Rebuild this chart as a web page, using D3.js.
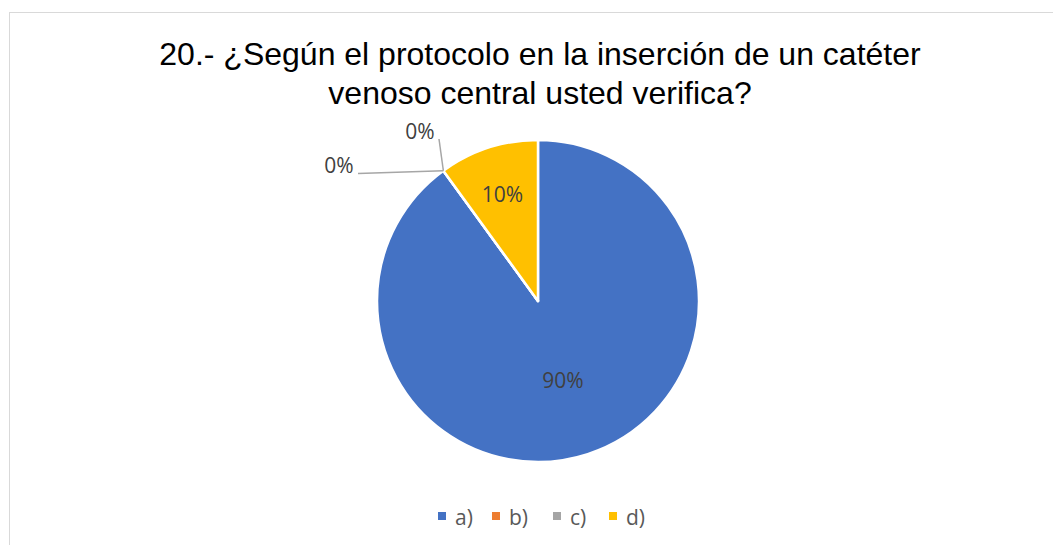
<!DOCTYPE html>
<html><head><meta charset="utf-8">
<script src="https://cdn.jsdelivr.net/npm/d3@7"></script>
<style>body{margin:0;background:#fff;} svg{display:block;}</style>
</head><body>
<script>
const categories = ["a)", "b)", "c)", "d)"];
const values = [90, 0, 0, 10];
const labels = ["90%", "0%", "0%", "10%"];
const colors = ["#4472C4", "#ED7D31", "#A5A5A5", "#FFC000"];
const titleLines = ["20.- ¿Según el protocolo en la inserción de un catéter", "venoso central usted verifica?"];

const W = 1053, H = 545;
const svg = d3.select("body").append("svg").attr("width", W).attr("height", H);
svg.append("rect").attr("x", 9.5).attr("y", 12.5).attr("width", W).attr("height", H)
  .attr("fill", "#fff").attr("stroke", "#d9d9d9").attr("stroke-width", 1);

svg.append("g").selectAll("text").data(titleLines).join("text")
  .attr("x", 540).attr("y", (d, i) => 65 + i * 39)
  .attr("text-anchor", "middle").attr("font-family", "Liberation Sans, Arial, sans-serif")
  .attr("font-size", 32).attr("fill", "#000").text(d => d);

const cx = 538, cy = 301, r = 161;
const pie = d3.pie().sort(null).value(d => d)(values);
const arc = d3.arc().innerRadius(0).outerRadius(r);
const g = svg.append("g").attr("transform", `translate(${cx},${cy})`);
g.selectAll("path").data(pie).join("path")
  .attr("d", arc).attr("fill", (d, i) => colors[i])
  .attr("stroke", "#fff").attr("stroke-width", 2.5).attr("stroke-linejoin", "round");

const lblFont = "'Open Sans', sans-serif";
const inside = { 0: [25, 79], 3: [-35.5, -106.5] };
Object.keys(inside).forEach(k => {
  const i = +k;
  const [x, y] = inside[k];
  g.append("text").attr("x", x).attr("y", y).attr("dy", "0.36em")
    .attr("text-anchor", "middle").attr("font-family", lblFont)
    .attr("font-size", 21).attr("fill", "#404040").text(labels[i]);
});

const edge = d3.arc().innerRadius(r).outerRadius(r);
const p0 = edge.centroid(pie[1]);
const leaders = [
  { i: 1, pts: [p0, [-180, -127.5]], tx: -199, ty: -135.5 },
  { i: 2, pts: [p0, [-99, -162]], tx: -118, ty: -169.5 }
];
leaders.forEach(L => {
  g.append("path").attr("d", d3.line()(L.pts)).attr("fill", "none")
    .attr("stroke", "#A6A6A6").attr("stroke-width", 1.5);
  g.append("text").attr("x", L.tx).attr("y", L.ty).attr("dy", "0.36em")
    .attr("text-anchor", "middle").attr("font-family", lblFont)
    .attr("font-size", 21).attr("fill", "#404040").text(labels[L.i]);
});

const legX = [438, 492, 553, 609];
const lg = svg.append("g");
categories.forEach((c, i) => {
  lg.append("rect").attr("x", legX[i]).attr("y", 512).attr("width", 8).attr("height", 8).attr("fill", colors[i]);
  lg.append("text").attr("x", legX[i] + 17).attr("y", 517).attr("dy", "0.36em")
    .attr("font-family", lblFont).attr("font-size", 21).attr("fill", "#595959").text(c);
});
</script>
</body></html>
